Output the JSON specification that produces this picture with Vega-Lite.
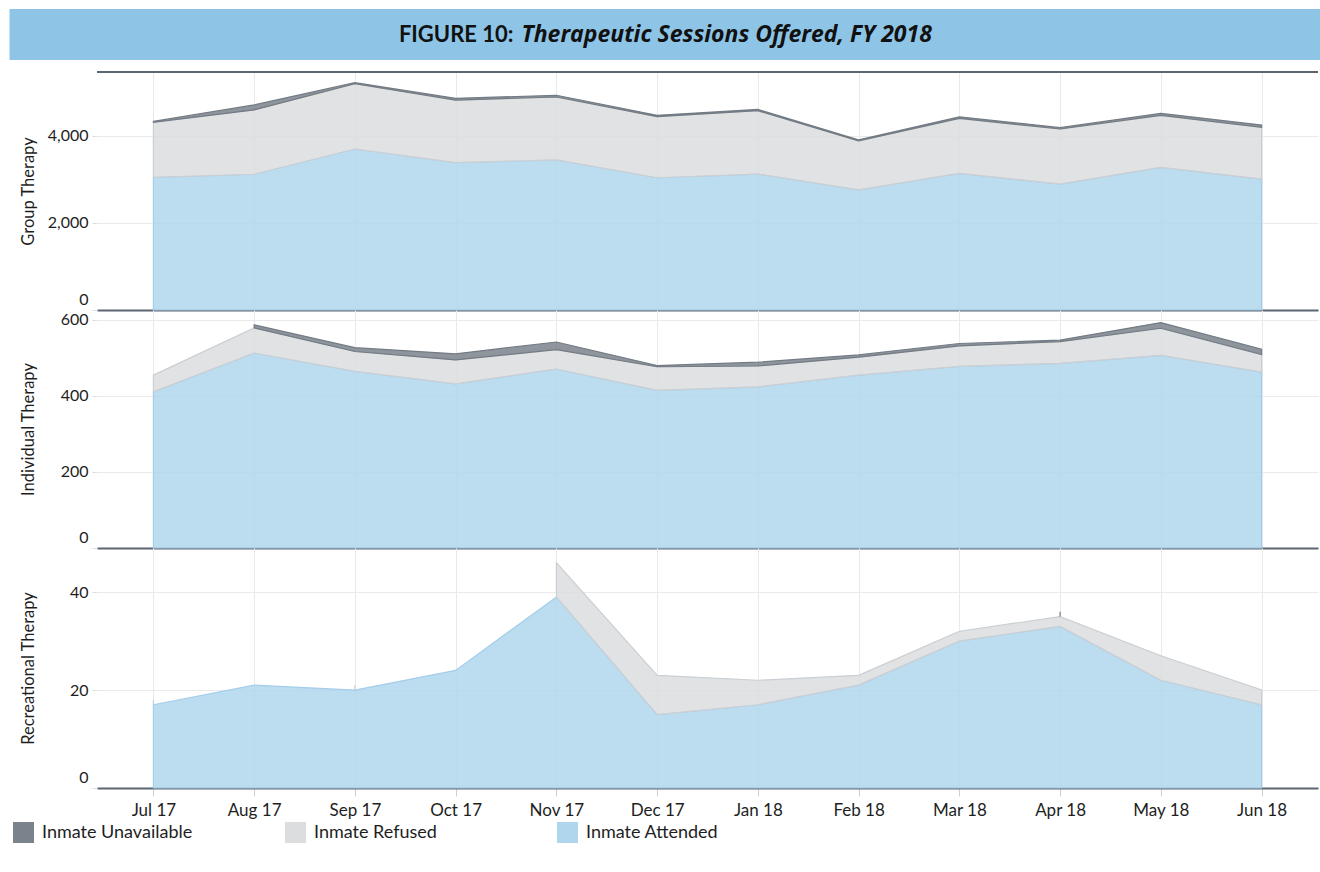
{
  "$schema": "https://vega.github.io/schema/vega-lite/v6.json",
  "padding": {"left": 10, "top": 9, "right": 0, "bottom": 0},
  "background": "#ffffff",
  "columns": 1,
  "align": "none",
  "spacing": 11,
  "config": {
    "font": "Lato",
    "view": {"stroke": null},
    "axis": {
      "labelFont": "Lato",
      "titleFont": "Lato",
      "labelColor": "#1e1e1e",
      "titleColor": "#1e1e1e",
      "gridColor": "#EAEAEA",
      "titleFontWeight": "normal"
    }
  },
  "datasets": {
    "sessions": [
      {"panel": "Group Therapy", "month": "Jul 17", "series": "Inmate Attended", "value": 3050},
      {"panel": "Group Therapy", "month": "Aug 17", "series": "Inmate Attended", "value": 3120},
      {"panel": "Group Therapy", "month": "Sep 17", "series": "Inmate Attended", "value": 3700},
      {"panel": "Group Therapy", "month": "Oct 17", "series": "Inmate Attended", "value": 3385},
      {"panel": "Group Therapy", "month": "Nov 17", "series": "Inmate Attended", "value": 3450},
      {"panel": "Group Therapy", "month": "Dec 17", "series": "Inmate Attended", "value": 3040},
      {"panel": "Group Therapy", "month": "Jan 18", "series": "Inmate Attended", "value": 3125},
      {"panel": "Group Therapy", "month": "Feb 18", "series": "Inmate Attended", "value": 2760},
      {"panel": "Group Therapy", "month": "Mar 18", "series": "Inmate Attended", "value": 3140},
      {"panel": "Group Therapy", "month": "Apr 18", "series": "Inmate Attended", "value": 2895},
      {"panel": "Group Therapy", "month": "May 18", "series": "Inmate Attended", "value": 3280},
      {"panel": "Group Therapy", "month": "Jun 18", "series": "Inmate Attended", "value": 3010},
      {"panel": "Group Therapy", "month": "Jul 17", "series": "Inmate Refused", "value": 1265},
      {"panel": "Group Therapy", "month": "Aug 17", "series": "Inmate Refused", "value": 1478},
      {"panel": "Group Therapy", "month": "Sep 17", "series": "Inmate Refused", "value": 1500},
      {"panel": "Group Therapy", "month": "Oct 17", "series": "Inmate Refused", "value": 1440},
      {"panel": "Group Therapy", "month": "Nov 17", "series": "Inmate Refused", "value": 1445},
      {"panel": "Group Therapy", "month": "Dec 17", "series": "Inmate Refused", "value": 1405},
      {"panel": "Group Therapy", "month": "Jan 18", "series": "Inmate Refused", "value": 1455},
      {"panel": "Group Therapy", "month": "Feb 18", "series": "Inmate Refused", "value": 1125},
      {"panel": "Group Therapy", "month": "Mar 18", "series": "Inmate Refused", "value": 1265},
      {"panel": "Group Therapy", "month": "Apr 18", "series": "Inmate Refused", "value": 1265},
      {"panel": "Group Therapy", "month": "May 18", "series": "Inmate Refused", "value": 1195},
      {"panel": "Group Therapy", "month": "Jun 18", "series": "Inmate Refused", "value": 1190},
      {"panel": "Group Therapy", "month": "Jul 17", "series": "Inmate Unavailable", "value": 20},
      {"panel": "Group Therapy", "month": "Aug 17", "series": "Inmate Unavailable", "value": 115},
      {"panel": "Group Therapy", "month": "Sep 17", "series": "Inmate Unavailable", "value": 25},
      {"panel": "Group Therapy", "month": "Oct 17", "series": "Inmate Unavailable", "value": 40},
      {"panel": "Group Therapy", "month": "Nov 17", "series": "Inmate Unavailable", "value": 40},
      {"panel": "Group Therapy", "month": "Dec 17", "series": "Inmate Unavailable", "value": 30},
      {"panel": "Group Therapy", "month": "Jan 18", "series": "Inmate Unavailable", "value": 30},
      {"panel": "Group Therapy", "month": "Feb 18", "series": "Inmate Unavailable", "value": 25},
      {"panel": "Group Therapy", "month": "Mar 18", "series": "Inmate Unavailable", "value": 35},
      {"panel": "Group Therapy", "month": "Apr 18", "series": "Inmate Unavailable", "value": 30},
      {"panel": "Group Therapy", "month": "May 18", "series": "Inmate Unavailable", "value": 45},
      {"panel": "Group Therapy", "month": "Jun 18", "series": "Inmate Unavailable", "value": 50},

      {"panel": "Individual Therapy", "month": "Jul 17", "series": "Inmate Attended", "value": 410},
      {"panel": "Individual Therapy", "month": "Aug 17", "series": "Inmate Attended", "value": 512},
      {"panel": "Individual Therapy", "month": "Sep 17", "series": "Inmate Attended", "value": 464},
      {"panel": "Individual Therapy", "month": "Oct 17", "series": "Inmate Attended", "value": 431},
      {"panel": "Individual Therapy", "month": "Nov 17", "series": "Inmate Attended", "value": 470},
      {"panel": "Individual Therapy", "month": "Dec 17", "series": "Inmate Attended", "value": 414},
      {"panel": "Individual Therapy", "month": "Jan 18", "series": "Inmate Attended", "value": 423},
      {"panel": "Individual Therapy", "month": "Feb 18", "series": "Inmate Attended", "value": 454},
      {"panel": "Individual Therapy", "month": "Mar 18", "series": "Inmate Attended", "value": 477},
      {"panel": "Individual Therapy", "month": "Apr 18", "series": "Inmate Attended", "value": 485},
      {"panel": "Individual Therapy", "month": "May 18", "series": "Inmate Attended", "value": 506},
      {"panel": "Individual Therapy", "month": "Jun 18", "series": "Inmate Attended", "value": 462},
      {"panel": "Individual Therapy", "month": "Jul 17", "series": "Inmate Refused", "value": 44},
      {"panel": "Individual Therapy", "month": "Aug 17", "series": "Inmate Refused", "value": 66},
      {"panel": "Individual Therapy", "month": "Sep 17", "series": "Inmate Refused", "value": 52},
      {"panel": "Individual Therapy", "month": "Oct 17", "series": "Inmate Refused", "value": 63},
      {"panel": "Individual Therapy", "month": "Nov 17", "series": "Inmate Refused", "value": 51},
      {"panel": "Individual Therapy", "month": "Dec 17", "series": "Inmate Refused", "value": 62},
      {"panel": "Individual Therapy", "month": "Jan 18", "series": "Inmate Refused", "value": 55},
      {"panel": "Individual Therapy", "month": "Feb 18", "series": "Inmate Refused", "value": 47},
      {"panel": "Individual Therapy", "month": "Mar 18", "series": "Inmate Refused", "value": 54},
      {"panel": "Individual Therapy", "month": "Apr 18", "series": "Inmate Refused", "value": 57},
      {"panel": "Individual Therapy", "month": "May 18", "series": "Inmate Refused", "value": 71},
      {"panel": "Individual Therapy", "month": "Jun 18", "series": "Inmate Refused", "value": 46},
      {"panel": "Individual Therapy", "month": "Jul 17", "series": "Inmate Unavailable", "value": null},
      {"panel": "Individual Therapy", "month": "Aug 17", "series": "Inmate Unavailable", "value": 8},
      {"panel": "Individual Therapy", "month": "Sep 17", "series": "Inmate Unavailable", "value": 10},
      {"panel": "Individual Therapy", "month": "Oct 17", "series": "Inmate Unavailable", "value": 16},
      {"panel": "Individual Therapy", "month": "Nov 17", "series": "Inmate Unavailable", "value": 20},
      {"panel": "Individual Therapy", "month": "Dec 17", "series": "Inmate Unavailable", "value": 3},
      {"panel": "Individual Therapy", "month": "Jan 18", "series": "Inmate Unavailable", "value": 10},
      {"panel": "Individual Therapy", "month": "Feb 18", "series": "Inmate Unavailable", "value": 6},
      {"panel": "Individual Therapy", "month": "Mar 18", "series": "Inmate Unavailable", "value": 6},
      {"panel": "Individual Therapy", "month": "Apr 18", "series": "Inmate Unavailable", "value": 4},
      {"panel": "Individual Therapy", "month": "May 18", "series": "Inmate Unavailable", "value": 15},
      {"panel": "Individual Therapy", "month": "Jun 18", "series": "Inmate Unavailable", "value": 14},

      {"panel": "Recreational Therapy", "month": "Jul 17", "series": "Inmate Attended", "value": 17},
      {"panel": "Recreational Therapy", "month": "Aug 17", "series": "Inmate Attended", "value": 21},
      {"panel": "Recreational Therapy", "month": "Sep 17", "series": "Inmate Attended", "value": 20},
      {"panel": "Recreational Therapy", "month": "Oct 17", "series": "Inmate Attended", "value": 24},
      {"panel": "Recreational Therapy", "month": "Nov 17", "series": "Inmate Attended", "value": 39},
      {"panel": "Recreational Therapy", "month": "Dec 17", "series": "Inmate Attended", "value": 15},
      {"panel": "Recreational Therapy", "month": "Jan 18", "series": "Inmate Attended", "value": 17},
      {"panel": "Recreational Therapy", "month": "Feb 18", "series": "Inmate Attended", "value": 21},
      {"panel": "Recreational Therapy", "month": "Mar 18", "series": "Inmate Attended", "value": 30},
      {"panel": "Recreational Therapy", "month": "Apr 18", "series": "Inmate Attended", "value": 33},
      {"panel": "Recreational Therapy", "month": "May 18", "series": "Inmate Attended", "value": 22},
      {"panel": "Recreational Therapy", "month": "Jun 18", "series": "Inmate Attended", "value": 17},
      {"panel": "Recreational Therapy", "month": "Jul 17", "series": "Inmate Refused", "value": 1},
      {"panel": "Recreational Therapy", "month": "Aug 17", "series": "Inmate Refused", "value": null},
      {"panel": "Recreational Therapy", "month": "Sep 17", "series": "Inmate Refused", "value": 1},
      {"panel": "Recreational Therapy", "month": "Oct 17", "series": "Inmate Refused", "value": null},
      {"panel": "Recreational Therapy", "month": "Nov 17", "series": "Inmate Refused", "value": 7},
      {"panel": "Recreational Therapy", "month": "Dec 17", "series": "Inmate Refused", "value": 8},
      {"panel": "Recreational Therapy", "month": "Jan 18", "series": "Inmate Refused", "value": 5},
      {"panel": "Recreational Therapy", "month": "Feb 18", "series": "Inmate Refused", "value": 2},
      {"panel": "Recreational Therapy", "month": "Mar 18", "series": "Inmate Refused", "value": 2},
      {"panel": "Recreational Therapy", "month": "Apr 18", "series": "Inmate Refused", "value": 2},
      {"panel": "Recreational Therapy", "month": "May 18", "series": "Inmate Refused", "value": 5},
      {"panel": "Recreational Therapy", "month": "Jun 18", "series": "Inmate Refused", "value": 3},
      {"panel": "Recreational Therapy", "month": "Jul 17", "series": "Inmate Unavailable", "value": null},
      {"panel": "Recreational Therapy", "month": "Aug 17", "series": "Inmate Unavailable", "value": null},
      {"panel": "Recreational Therapy", "month": "Sep 17", "series": "Inmate Unavailable", "value": null},
      {"panel": "Recreational Therapy", "month": "Oct 17", "series": "Inmate Unavailable", "value": null},
      {"panel": "Recreational Therapy", "month": "Nov 17", "series": "Inmate Unavailable", "value": null},
      {"panel": "Recreational Therapy", "month": "Dec 17", "series": "Inmate Unavailable", "value": null},
      {"panel": "Recreational Therapy", "month": "Jan 18", "series": "Inmate Unavailable", "value": null},
      {"panel": "Recreational Therapy", "month": "Feb 18", "series": "Inmate Unavailable", "value": null},
      {"panel": "Recreational Therapy", "month": "Mar 18", "series": "Inmate Unavailable", "value": null},
      {"panel": "Recreational Therapy", "month": "Apr 18", "series": "Inmate Unavailable", "value": 1},
      {"panel": "Recreational Therapy", "month": "May 18", "series": "Inmate Unavailable", "value": null},
      {"panel": "Recreational Therapy", "month": "Jun 18", "series": "Inmate Unavailable", "value": null}
    ],
    "titleText": [
      {"label": "FIGURE 10:", "subject": "Therapeutic Sessions Offered, FY 2018", "row": 0}
    ]
  },
  "concat": [
    {
      "width": 1223,
      "height": 51,
      "view": {"fill": "#8EC5E7", "stroke": null},
      "data": {"name": "titleText"},
      "layer": [
        {
          "mark": {"type": "text", "font": "Lato", "fontSize": 22, "fontWeight": "bold", "align": "right", "baseline": "middle", "dx": -195, "color": "#111111"},
          "encoding": {
            "text": {"field": "label"},
            "y": {"field": "row", "type": "quantitative", "scale": {"domain": [-1, 1]},
              "axis": {"title": null, "labels": false, "ticks": false, "grid": false, "domain": true, "domainColor": "#8EC5E7", "domainWidth": 175, "domainCap": "butt", "translate": 0}}
          }
        },
        {
          "mark": {"type": "text", "font": "Open Sans", "fontSize": 23, "fontWeight": "bold", "fontStyle": "italic", "align": "left", "baseline": "middle", "dx": -187, "color": "#111111"},
          "encoding": {
            "text": {"field": "subject"},
            "y": {"field": "row", "type": "quantitative", "scale": {"domain": [-1, 1]},
              "axis": {"title": null, "labels": false, "ticks": false, "grid": false, "domain": true, "domainColor": "#8EC5E7", "domainWidth": 175, "domainCap": "butt", "translate": 0}}
          }
        }
      ]
    },
    {
      "spacing": 0,
      "bounds": "flush",
      "title": {"text": ".", "orient": "left", "fontSize": 6, "offset": 4, "color": "#ffffff"},
      "vconcat": [
        {
          "width": 1221,
          "height": 238,
          "layer": [
            {
              "data": {"name": "sessions"},
              "transform": [{"filter": "datum.panel === 'Group Therapy'"}],
              "mark": {"type": "area", "fillOpacity": 0.85, "strokeWidth": 1.2},
              "encoding": {
                "x": {"field": "month", "type": "ordinal", "sort": ["Jul 17","Aug 17","Sep 17","Oct 17","Nov 17","Dec 17","Jan 18","Feb 18","Mar 18","Apr 18","May 18","Jun 18"], "scale": {"type": "point", "padding": 0.56},
                  "axis": {"title": null, "labels": false, "ticks": false, "grid": true, "domainColor": "#5B6670", "domainWidth": 2}},
                "y": {"field": "value", "type": "quantitative", "stack": "zero", "scale": {"domain": [0, 5470], "nice": false},
                  "axis": {"title": "Group Therapy", "values": [0, 2000, 4000], "format": ",d", "domain": false, "tickSize": 5, "tickColor": "#DDDDDD", "labelPadding": 4, "labelFontSize": 16, "labelFlush": true, "labelFlushOffset": -3, "titleFontSize": 16.5, "titlePadding": 11, "minExtent": 50, "maxExtent": 50}},
                "color": {"field": "series", "type": "nominal", "scale": {"domain": ["Inmate Unavailable", "Inmate Refused", "Inmate Attended"], "range": ["#7A828C", "#DCDDDE", "#B0D6ED"]},
                  "legend": {"orient": "none", "legendX": -84, "legendY": 813, "direction": "horizontal", "columns": 3, "gridAlign": "all", "columnPadding": 92, "symbolType": "square", "symbolSize": 441, "symbolStrokeWidth": 0, "labelFontSize": 18, "labelFont": "Lato", "labelColor": "#1e1e1e", "labelOffset": 8, "title": null}},
                "stroke": {"condition": [{"test": "datum.series === 'Inmate Unavailable'", "value": "#737B84"}, {"test": "datum.series === 'Inmate Attended'", "value": "#A3CDEA"}], "value": "#CACFD3"},
                "order": {"field": "series", "type": "ordinal", "sort": "ascending"}
              }
            },
            {
              "data": {"values": [{}]},
              "mark": {"type": "rule", "color": "#5B6670", "strokeWidth": 2},
              "encoding": {"y": {"datum": 5470}}
            }
          ]
        },
        {
          "width": 1221,
          "height": 238,
          "data": {"name": "sessions"},
          "transform": [{"filter": "datum.panel === 'Individual Therapy'"}],
          "mark": {"type": "area", "fillOpacity": 0.85, "strokeWidth": 1.2},
          "encoding": {
            "x": {"field": "month", "type": "ordinal", "sort": ["Jul 17","Aug 17","Sep 17","Oct 17","Nov 17","Dec 17","Jan 18","Feb 18","Mar 18","Apr 18","May 18","Jun 18"], "scale": {"type": "point", "padding": 0.56},
              "axis": {"title": null, "labels": false, "ticks": false, "grid": true, "domainColor": "#5B6670", "domainWidth": 2}},
            "y": {"field": "value", "type": "quantitative", "stack": "zero", "scale": {"domain": [0, 625], "nice": false},
              "axis": {"title": "Individual Therapy", "values": [0, 200, 400, 600], "format": ",d", "domain": false, "tickSize": 5, "tickColor": "#DDDDDD", "labelPadding": 4, "labelFontSize": 16, "labelFlush": true, "labelFlushOffset": -3, "titleFontSize": 16.5, "titlePadding": 11, "minExtent": 50, "maxExtent": 50}},
            "color": {"field": "series", "type": "nominal", "scale": {"domain": ["Inmate Unavailable", "Inmate Refused", "Inmate Attended"], "range": ["#7A828C", "#DCDDDE", "#B0D6ED"]},
              "legend": {"orient": "none", "legendX": -84, "legendY": 813, "direction": "horizontal", "columns": 3, "gridAlign": "all", "columnPadding": 92, "symbolType": "square", "symbolSize": 441, "symbolStrokeWidth": 0, "labelFontSize": 18, "labelFont": "Lato", "labelColor": "#1e1e1e", "labelOffset": 8, "title": null}},
            "stroke": {"condition": [{"test": "datum.series === 'Inmate Unavailable'", "value": "#737B84"}, {"test": "datum.series === 'Inmate Attended'", "value": "#A3CDEA"}], "value": "#CACFD3"},
            "order": {"field": "series", "type": "ordinal", "sort": "ascending"}
          }
        },
        {
          "width": 1221,
          "height": 240,
          "data": {"name": "sessions"},
          "transform": [{"filter": "datum.panel === 'Recreational Therapy'"}],
          "mark": {"type": "area", "fillOpacity": 0.85, "strokeWidth": 1.2},
          "encoding": {
            "x": {"field": "month", "type": "ordinal", "sort": ["Jul 17","Aug 17","Sep 17","Oct 17","Nov 17","Dec 17","Jan 18","Feb 18","Mar 18","Apr 18","May 18","Jun 18"], "scale": {"type": "point", "padding": 0.56},
              "axis": {"title": null, "labelAngle": 0, "labelFontSize": 17, "labelPadding": 6, "ticks": true, "tickSize": 8, "tickColor": "#CFCFCF", "grid": true, "domainColor": "#5B6670", "domainWidth": 2}},
            "y": {"field": "value", "type": "quantitative", "stack": "zero", "scale": {"domain": [0, 49], "nice": false},
              "axis": {"title": "Recreational Therapy", "values": [0, 20, 40], "format": ",d", "domain": false, "tickSize": 5, "tickColor": "#DDDDDD", "labelPadding": 4, "labelFontSize": 16, "labelFlush": true, "labelFlushOffset": -3, "titleFontSize": 16.5, "titlePadding": 11, "minExtent": 50, "maxExtent": 50}},
            "color": {"field": "series", "type": "nominal", "scale": {"domain": ["Inmate Unavailable", "Inmate Refused", "Inmate Attended"], "range": ["#7A828C", "#DCDDDE", "#B0D6ED"]},
              "legend": {"orient": "none", "legendX": -84, "legendY": 813, "direction": "horizontal", "columns": 3, "gridAlign": "all", "columnPadding": 92, "symbolType": "square", "symbolSize": 441, "symbolStrokeWidth": 0, "labelFontSize": 18, "labelFont": "Lato", "labelColor": "#1e1e1e", "labelOffset": 8, "title": null}},
            "stroke": {"condition": [{"test": "datum.series === 'Inmate Unavailable'", "value": "#737B84"}, {"test": "datum.series === 'Inmate Attended'", "value": "#A3CDEA"}], "value": "#CACFD3"},
            "order": {"field": "series", "type": "ordinal", "sort": "ascending"}
          }
        }
      ]
    }
  ]
}
